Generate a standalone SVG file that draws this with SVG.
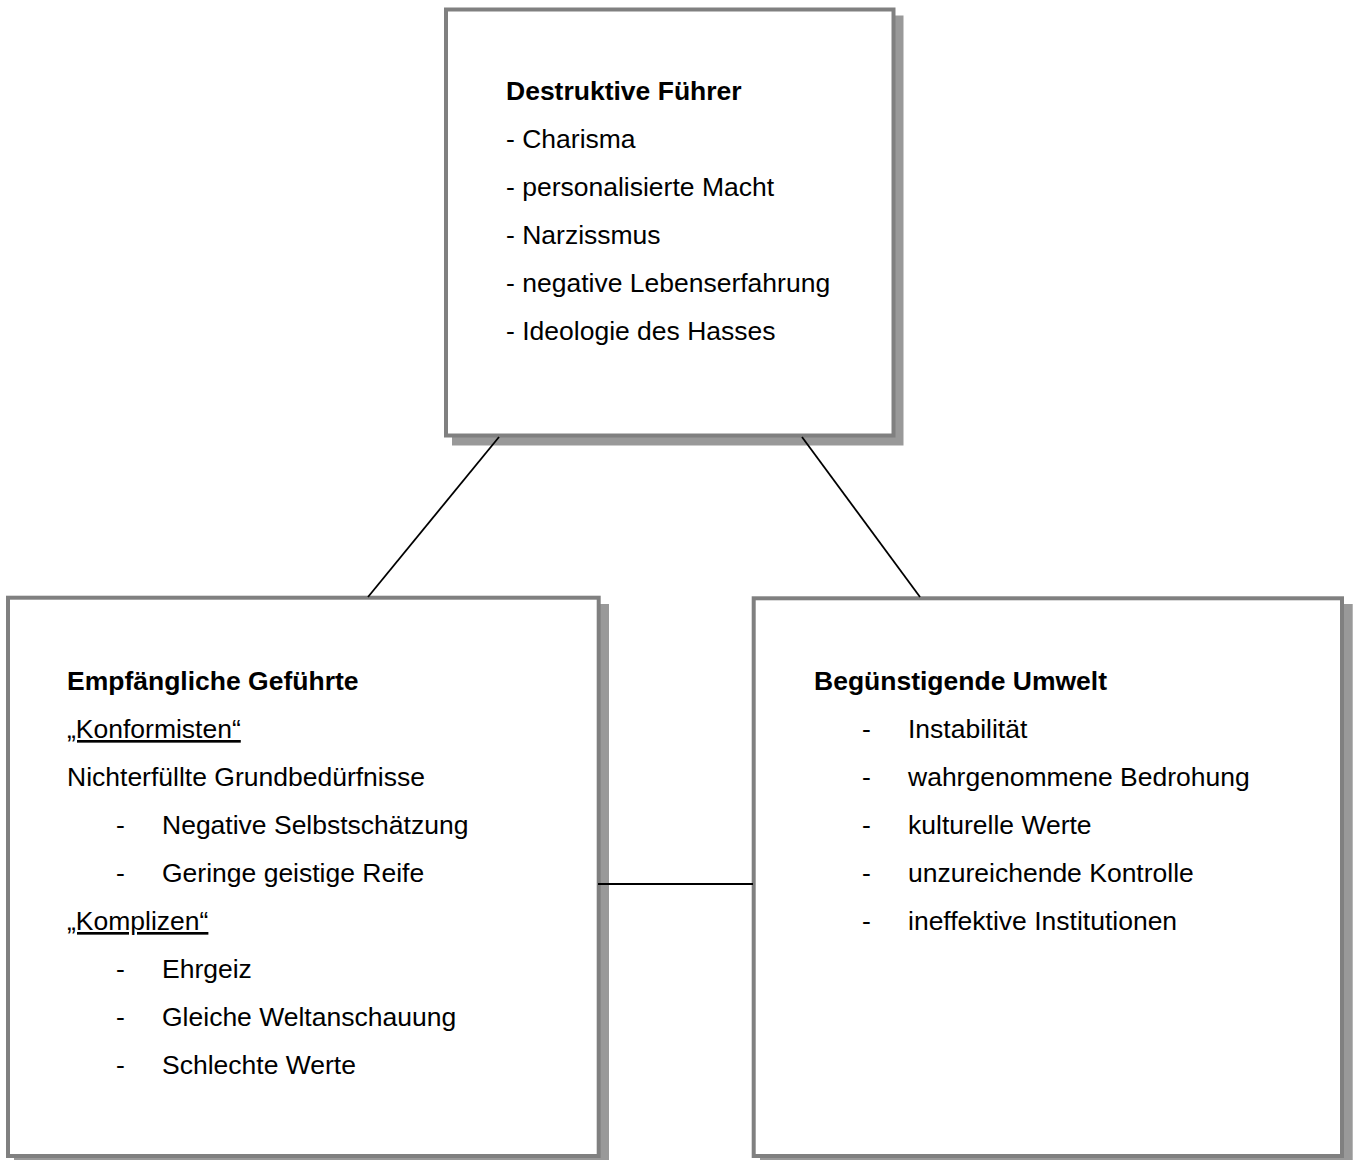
<svg xmlns="http://www.w3.org/2000/svg" width="1355" height="1160" viewBox="0 0 1355 1160">
<style>
.shadow{fill:#999999;stroke:none}
.box{fill:#ffffff;stroke:#808080;stroke-width:4}
.t{font-family:"Liberation Sans",Arial,sans-serif;font-size:26.5px;fill:#000000}
.b{font-weight:bold}
.u{text-decoration:underline}
.conn{stroke:#000000;stroke-width:1.8;fill:none}
</style>
<rect width="1355" height="1160" fill="#ffffff"/>
<g id="node-fuehrer">
<rect class="shadow" x="452" y="15.5" width="451.5" height="430"/>
<rect class="box" x="446" y="9.5" width="447.5" height="426"/>
<text class="t b" x="506" y="100">Destruktive Führer</text>
<text class="t" x="506" y="148">- Charisma</text>
<text class="t" x="506" y="196">- personalisierte Macht</text>
<text class="t" x="506" y="244">- Narzissmus</text>
<text class="t" x="506" y="292">- negative Lebenserfahrung</text>
<text class="t" x="506" y="340">- Ideologie des Hasses</text>
</g>
<g id="node-gefuehrte">
<rect class="shadow" x="14" y="604" width="595" height="562"/>
<rect class="box" x="8" y="597.7" width="590.7" height="558.3"/>
<text class="t b" x="67" y="690">Empfängliche Geführte</text>
<text class="t u" x="67" y="738">„Konformisten“</text>
<text class="t" x="67" y="786">Nichterfüllte Grundbedürfnisse</text>
<text class="t" x="116" y="834">-</text>
<text class="t" x="162" y="834">Negative Selbstschätzung</text>
<text class="t" x="116" y="882">-</text>
<text class="t" x="162" y="882">Geringe geistige Reife</text>
<text class="t u" x="67" y="930">„Komplizen“</text>
<text class="t" x="116" y="978">-</text>
<text class="t" x="162" y="978">Ehrgeiz</text>
<text class="t" x="116" y="1026">-</text>
<text class="t" x="162" y="1026">Gleiche Weltanschauung</text>
<text class="t" x="116" y="1074">-</text>
<text class="t" x="162" y="1074">Schlechte Werte</text>
</g>
<g id="node-umwelt">
<rect class="shadow" x="760" y="604" width="592.7" height="562"/>
<rect class="box" x="753.7" y="598.3" width="588.3" height="557.7"/>
<text class="t b" x="814" y="690">Begünstigende Umwelt</text>
<text class="t" x="862" y="738">-</text>
<text class="t" x="908" y="738">Instabilität</text>
<text class="t" x="862" y="786">-</text>
<text class="t" x="908" y="786">wahrgenommene Bedrohung</text>
<text class="t" x="862" y="834">-</text>
<text class="t" x="908" y="834">kulturelle Werte</text>
<text class="t" x="862" y="882">-</text>
<text class="t" x="908" y="882">unzureichende Kontrolle</text>
<text class="t" x="862" y="930">-</text>
<text class="t" x="908" y="930">ineffektive Institutionen</text>
</g>
<g id="connectors">
<line class="conn" x1="499" y1="437" x2="368" y2="597"/>
<line class="conn" x1="802" y1="437" x2="920" y2="597"/>
<line class="conn" x1="598" y1="884" x2="753" y2="884"/>
</g>
</svg>
